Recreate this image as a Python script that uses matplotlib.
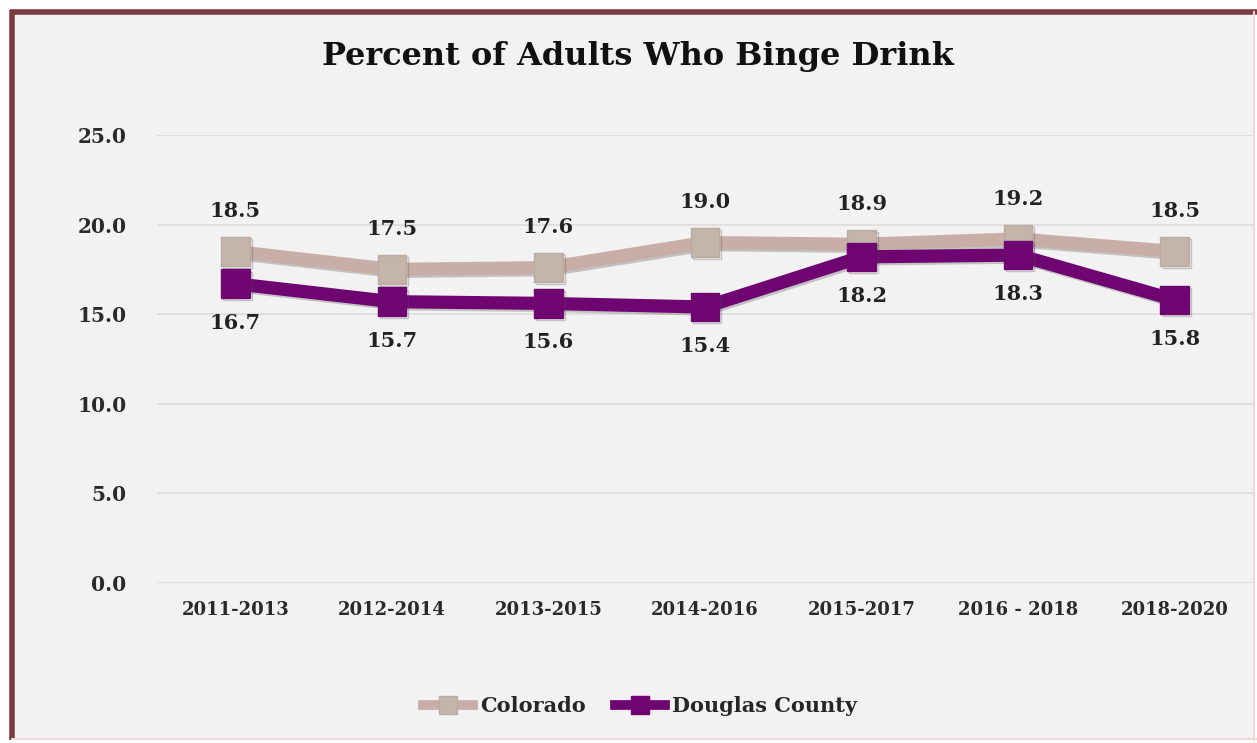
import matplotlib
matplotlib.use("Agg")
import matplotlib.pyplot as plt
from matplotlib.patches import Rectangle
from matplotlib.lines import Line2D
import matplotlib.patheffects as pe

categories = ["2011-2013", "2012-2014", "2013-2015", "2014-2016", "2015-2017", "2016 - 2018", "2018-2020"]
colorado = [18.5, 17.5, 17.6, 19.0, 18.9, 19.2, 18.5]
douglas = [16.7, 15.7, 15.6, 15.4, 18.2, 18.3, 15.8]
yticks = [0.0, 5.0, 10.0, 15.0, 20.0, 25.0]

SERIF = ["DejaVu Serif"]
W, H = 1257, 743
fig = plt.figure(figsize=(W / 100, H / 100), dpi=100)
fig.patch.set_facecolor("white")

# chart area background + border
bg = Rectangle((12 / W, 1 - 738 / H), (1254 - 12) / W, (738 - 12) / H, transform=fig.transFigure,
               facecolor="#f2f2f2", edgecolor="none", zorder=-10)
fig.add_artist(bg)
fig.add_artist(Line2D([12 / W, 12 / W], [1 - 740 / H, 1 - 10 / H], transform=fig.transFigure,
                      color="#7b3a40", lw=4, solid_capstyle="butt", zorder=-5))
fig.add_artist(Line2D([10 / W, 1257 / W], [1 - 12 / H, 1 - 12 / H], transform=fig.transFigure,
                      color="#7b3a40", lw=4, solid_capstyle="butt", zorder=-5))
fig.add_artist(Line2D([1254 / W, 1254 / W], [1 - 740 / H, 1 - 12 / H], transform=fig.transFigure,
                      color="#f1d8d8", lw=1.5, zorder=-5))
fig.add_artist(Line2D([12 / W, 1257 / W], [1 - 739 / H, 1 - 739 / H], transform=fig.transFigure,
                      color="#f1d8d8", lw=1.5, zorder=-5))

ax = fig.add_axes([157 / W, 1 - 583 / H, 1096 / W, (583 - 135) / H])
ax.set_facecolor("none")
ax.set_zorder(1)
x = list(range(len(categories)))

shadow = [pe.SimpleLineShadow(offset=(1.5, -1.5), shadow_color="#555555", alpha=0.3), pe.Normal()]
ax.plot(x, colorado, color="#c9aea8", lw=9.5, marker="s", markersize=20.5,
        markerfacecolor="#c4b4aa", markeredgecolor="#b8ada3", markeredgewidth=1,
        zorder=3, path_effects=shadow, label="Colorado")
ax.plot(x, douglas, color="#6e0570", lw=9.5, marker="s", markersize=20.5,
        markerfacecolor="#6e0570", markeredgecolor="#6e0570",
        zorder=4, path_effects=shadow, label="Douglas County")

for xi, v in zip(x, colorado):
    ax.annotate(f"{v:.1f}", (xi, v), xytext=(0, 29), textcoords="offset points", ha="center",
                va="center", fontsize=15, fontweight="bold", family=SERIF, color="#222222")
for xi, v in zip(x, douglas):
    ax.annotate(f"{v:.1f}", (xi, v), xytext=(0, -28), textcoords="offset points", ha="center",
                va="center", fontsize=15, fontweight="bold", family=SERIF, color="#222222")

ax.set_xlim(-0.5, len(categories) - 0.5)
ax.set_ylim(0, 25)
ax.set_yticks(yticks)
ax.set_yticklabels([f"{t:.1f}" for t in yticks], fontsize=14.5, fontweight="bold", family=SERIF, color="#2a2a2a")
ax.set_xticks(x)
ax.set_xticklabels(categories, fontsize=13, fontweight="bold", family=SERIF, color="#2a2a2a")
ax.tick_params(axis="both", length=0)
ax.tick_params(axis="y", pad=22)
ax.tick_params(axis="x", pad=13)
for s in ax.spines.values():
    s.set_visible(False)
ax.grid(axis="y", color="#e0dada", lw=1.2)
ax.set_axisbelow(True)

fig.text(638 / W, 1 - 56 / H, "Percent of Adults Who Binge Drink", ha="center", va="center",
         fontsize=23, fontweight="bold", family=SERIF, color="#111111")

handles = [Line2D([], [], color="#c9aea8", lw=7, marker="s", markersize=13,
                  markerfacecolor="#c4b4aa", markeredgecolor="#b8ada3"),
           Line2D([], [], color="#6e0570", lw=7, marker="s", markersize=13,
                  markerfacecolor="#6e0570", markeredgecolor="#6e0570")]
leg = fig.legend(handles, ["Colorado", "Douglas County"], loc="center",
                 bbox_to_anchor=(640 / W, 1 - 706 / H), ncol=2, frameon=False,
                 prop={"family": SERIF, "weight": "bold", "size": 15}, handlelength=2.4,
                 columnspacing=1.4, handletextpad=0.35)
for t in leg.get_texts():
    t.set_color("#262626")

fig.savefig("out.png", dpi=100)
